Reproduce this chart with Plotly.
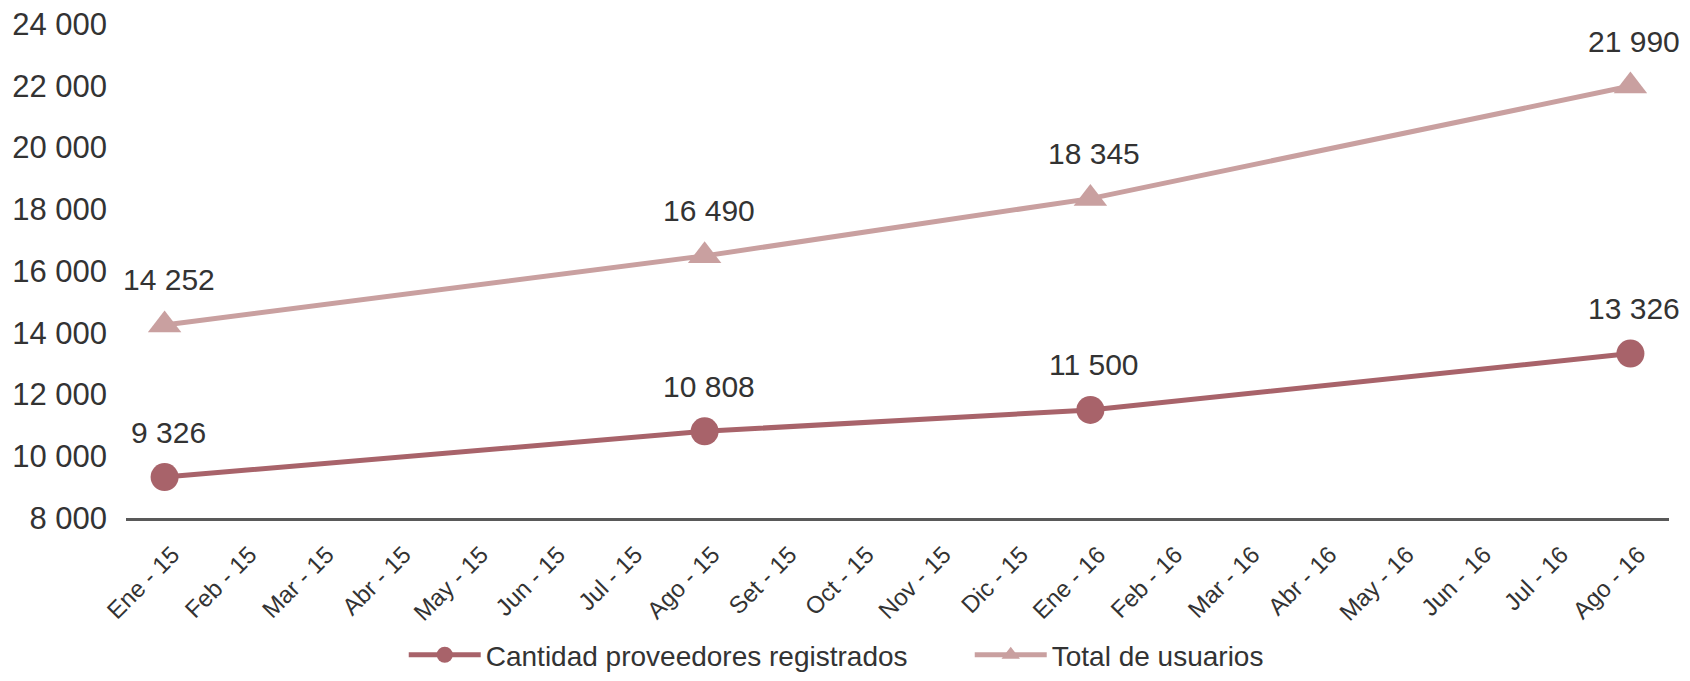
import plotly.graph_objects as go

months = ["Ene - 15", "Feb - 15", "Mar - 15", "Abr - 15", "May - 15", "Jun - 15",
          "Jul - 15", "Ago - 15", "Set - 15", "Oct - 15", "Nov - 15", "Dic - 15",
          "Ene - 16", "Feb - 16", "Mar - 16", "Abr - 16", "May - 16", "Jun - 16",
          "Jul - 16", "Ago - 16"]

point_months = ["Ene - 15", "Ago - 15", "Ene - 16", "Ago - 16"]
proveedores = [9326, 10808, 11500, 13326]
usuarios = [14252, 16490, 18345, 21990]
y_ticks = [8000, 10000, 12000, 14000, 16000, 18000, 20000, 22000, 24000]
y_tick_labels = ["8 000", "10 000", "12 000", "14 000", "16 000", "18 000", "20 000", "22 000", "24 000"]

def fmt(v):
    return f"{v:,}".replace(",", " ")

FONT = "Liberation Sans, Arial, sans-serif"
TXT = "#333333"
C1 = "#A8636A"
C2 = "#C9A0A0"

fig = go.Figure()
fig.add_trace(go.Scatter(
    x=point_months, y=proveedores, name="Cantidad proveedores registrados",
    mode="lines+markers",
    line=dict(color=C1, width=5), marker=dict(symbol="circle", size=28, color=C1),
    cliponaxis=False,
))
fig.add_trace(go.Scatter(
    x=point_months, y=usuarios, name="Total de usuarios",
    mode="lines+markers",
    line=dict(color=C2, width=5), marker=dict(symbol="triangle-up", size=29, color=C2),
    cliponaxis=False,
))

annotations = []
for series in (proveedores, usuarios):
    for m, v in zip(point_months, series):
        annotations.append(dict(x=m, y=v, xref="x", yref="y", text=fmt(v),
                                showarrow=False, yshift=45, xshift=4,
                                font=dict(size=30, color=TXT, family=FONT)))

fig.update_layout(
    width=1674, height=665,
    margin=dict(l=118, r=13, t=16, b=155),
    paper_bgcolor="white", plot_bgcolor="white",
    font=dict(family=FONT, color=TXT, size=28),
    showlegend=True,
    annotations=annotations,
    legend=dict(orientation="h", x=0.180, xanchor="left", xref="paper",
                y=0.027, yanchor="middle", yref="container",
                font=dict(size=28, color=TXT, family=FONT), itemwidth=72,
                entrywidth=479, bgcolor="rgba(0,0,0,0)"),
    xaxis=dict(type="category", categoryorder="array", categoryarray=months,
               tickvals=months, range=[-0.5, 19.5], tickangle=-45,
               tickfont=dict(size=24, color=TXT, family=FONT),
               showline=True, linecolor="#595959", linewidth=3,
               showgrid=False, ticks="", zeroline=False, fixedrange=True,
               ticklabelstandoff=10, ticklabelshift=8, automargin=False,
               ticklabeloverflow="allow"),
    yaxis=dict(range=[8000, 24000], tickvals=y_ticks, ticktext=y_tick_labels,
               tickfont=dict(size=31, color=TXT, family=FONT),
               showline=False, showgrid=False, zeroline=False, ticks="",
               ticklabelstandoff=18, fixedrange=True, automargin=False,
               ticklabeloverflow="allow"),
)

fig.write_html("out.html")
